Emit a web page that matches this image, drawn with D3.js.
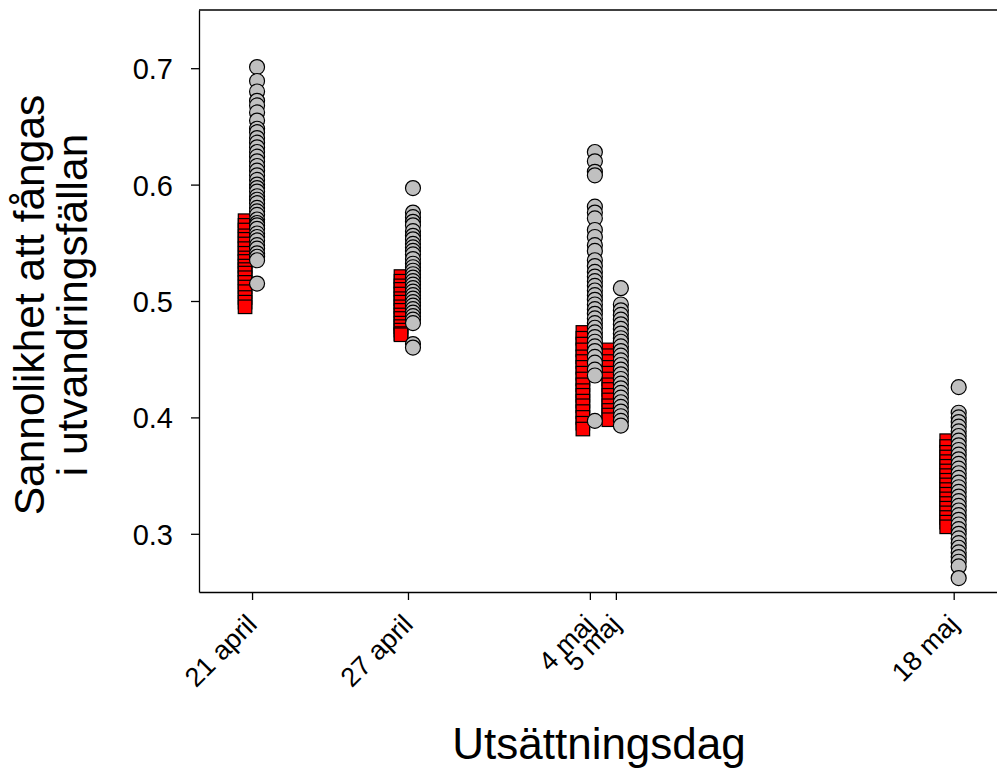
<!DOCTYPE html>
<html>
<head>
<meta charset="utf-8">
<script src="https://cdn.jsdelivr.net/npm/d3@7/dist/d3.min.js"></script>
<style>
  html, body { margin: 0; padding: 0; background: #fff; }
  svg { display: block; }
  text { font-family: "Liberation Sans", Arial, sans-serif; fill: #000; }
</style>
</head>
<body>
<svg id="chart" width="997" height="771"></svg>
<script>
// Release dates and their tick labels
const releaseDates = ["2010-04-21", "2010-04-27", "2010-05-04", "2010-05-05", "2010-05-18"];
const dateLabels = ["21 april", "27 april", "4 maj", "5 maj", "18 maj"];

// Modelled probability per release group (red squares)
const groupApr21 = [0.569, 0.565, 0.561, 0.556, 0.553, 0.549, 0.545, 0.541, 0.537, 0.534, 0.530, 0.527, 0.524, 0.520, 0.516, 0.512, 0.508, 0.503, 0.499, 0.495];
const groupApr27 = [0.521, 0.517, 0.513, 0.510, 0.506, 0.502, 0.499, 0.495, 0.492, 0.488, 0.485, 0.481, 0.478, 0.475, 0.472, 0.471];
const groupMay04 = [0.473, 0.468, 0.463, 0.458, 0.452, 0.448, 0.443, 0.438, 0.433, 0.428, 0.423, 0.419, 0.414, 0.410, 0.405, 0.400, 0.395, 0.390];
const groupMay05 = [0.458, 0.453, 0.448, 0.443, 0.438, 0.433, 0.428, 0.424, 0.419, 0.415, 0.410, 0.406, 0.402, 0.398];
const groupMay18 = [0.380, 0.375, 0.370, 0.366, 0.362, 0.358, 0.354, 0.350, 0.346, 0.342, 0.338, 0.334, 0.330, 0.326, 0.322, 0.318, 0.314, 0.310, 0.306];

// Individual fish probabilities per release (grey circles)
const fishApr21 = [0.701, 0.689, 0.680, 0.672, 0.668, 0.662, 0.655, 0.648, 0.645, 0.640, 0.636, 0.632, 0.628, 0.624, 0.620, 0.616, 0.612, 0.608, 0.604, 0.600, 0.597, 0.594, 0.590, 0.587, 0.584, 0.580, 0.577, 0.574, 0.570, 0.567, 0.565, 0.562, 0.558, 0.555, 0.552, 0.548, 0.545, 0.541, 0.538, 0.535, 0.515];
const fishApr27 = [0.597, 0.576, 0.572, 0.568, 0.565, 0.560, 0.556, 0.553, 0.549, 0.546, 0.543, 0.540, 0.536, 0.532, 0.529, 0.526, 0.523, 0.520, 0.517, 0.514, 0.511, 0.508, 0.505, 0.502, 0.499, 0.496, 0.493, 0.490, 0.487, 0.484, 0.481, 0.463, 0.460];
const fishMay04 = [0.628, 0.620, 0.611, 0.608, 0.581, 0.576, 0.571, 0.561, 0.555, 0.548, 0.543, 0.535, 0.530, 0.525, 0.521, 0.517, 0.513, 0.509, 0.505, 0.501, 0.497, 0.493, 0.489, 0.485, 0.481, 0.477, 0.473, 0.469, 0.465, 0.461, 0.457, 0.452, 0.447, 0.441, 0.436, 0.397];
const fishMay05 = [0.511, 0.497, 0.492, 0.488, 0.484, 0.480, 0.476, 0.472, 0.468, 0.465, 0.461, 0.457, 0.453, 0.449, 0.445, 0.441, 0.437, 0.433, 0.429, 0.425, 0.421, 0.417, 0.413, 0.409, 0.405, 0.401, 0.397, 0.393];
const fishMay18 = [0.426, 0.404, 0.400, 0.396, 0.392, 0.388, 0.384, 0.380, 0.376, 0.372, 0.368, 0.364, 0.360, 0.356, 0.352, 0.348, 0.344, 0.340, 0.336, 0.332, 0.328, 0.324, 0.320, 0.316, 0.312, 0.308, 0.304, 0.300, 0.296, 0.292, 0.288, 0.284, 0.280, 0.276, 0.272, 0.262];

const yTicks = [0.3, 0.4, 0.5, 0.6, 0.7];

const groupSeries = [groupApr21, groupApr27, groupMay04, groupMay05, groupMay18];
const fishSeries = [fishApr21, fishApr27, fishMay04, fishMay05, fishMay18];

const parse = d3.utcParse("%Y-%m-%d");
const dates = releaseDates.map(parse);

const svg = d3.select("#chart");
const margin = { left: 199, top: 10, right: 0, bottom: 179 };
const W = 997, H = 771;

const x = d3.scaleUtc()
  .domain([d3.utcHour.offset(dates[0], -49), d3.utcHour.offset(dates[4], 40)])
  .range([margin.left, W - margin.right]);
const y = d3.scaleLinear()
  .domain([0.25, 0.75])
  .range([H - margin.bottom, margin.top]);

const sq = 13.5;   // square marker side
const r = 7.5;     // circle marker radius
const sqShift = -7, ciShift = 5;

// Group markers
groupSeries.forEach((vals, i) => {
  svg.append("g")
    .selectAll("rect")
    .data(vals)
    .join("rect")
    .attr("x", x(dates[i]) + sqShift - sq / 2)
    .attr("y", d => y(d) - sq / 2)
    .attr("width", sq)
    .attr("height", sq)
    .attr("fill", "#ff0000")
    .attr("stroke", "#000")
    .attr("stroke-width", 1.2);
});

// Individual markers
fishSeries.forEach((vals, i) => {
  svg.append("g")
    .selectAll("circle")
    .data(vals)
    .join("circle")
    .attr("cx", x(dates[i]) + ciShift)
    .attr("cy", d => y(d))
    .attr("r", r)
    .attr("fill", "#c0c0c0")
    .attr("stroke", "#000")
    .attr("stroke-width", 1.2);
});

// Frame: top line (left and bottom come from the axes)
svg.append("line")
  .attr("x1", margin.left).attr("x2", W)
  .attr("y1", margin.top).attr("y2", margin.top)
  .attr("stroke", "#000").attr("stroke-width", 1.3);

// Y axis
const yAxis = svg.append("g")
  .attr("transform", `translate(${margin.left},0)`)
  .call(d3.axisLeft(y).tickValues(yTicks).tickFormat(d3.format(".1f")).tickSize(8).tickSizeOuter(0).tickPadding(18));
yAxis.select(".domain").attr("stroke-width", 1.3);
yAxis.selectAll(".tick line").attr("stroke-width", 1.3);
yAxis.selectAll(".tick text").style("font-size", "29px").attr("dy", "0.36em");

// X axis
const xAxis = svg.append("g")
  .attr("transform", `translate(0,${H - margin.bottom})`)
  .call(d3.axisBottom(x).tickValues(dates).tickFormat((d, i) => dateLabels[i]).tickSize(8).tickSizeOuter(0));
xAxis.select(".domain").attr("stroke-width", 1.3);
xAxis.selectAll(".tick line").attr("stroke-width", 1.3);
xAxis.selectAll(".tick text")
  .style("font-size", "27px")
  .attr("text-anchor", "end")
  .attr("y", 0)
  .attr("dy", 0)
  .attr("transform", "translate(6,34) rotate(-45)");

// Axis titles
svg.append("text")
  .attr("x", 599)
  .attr("y", 759)
  .attr("text-anchor", "middle")
  .style("font-size", "44px")
  .text("Utsättningsdag");

const yTitle = svg.append("text")
  .attr("transform", "translate(0,305) rotate(-90)")
  .attr("text-anchor", "middle")
  .style("font-size", "42.5px");
yTitle.append("tspan").attr("x", 0).attr("y", 44).text("Sannolikhet att fångas");
yTitle.append("tspan").attr("x", 0).attr("y", 87).text("i utvandringsfällan");
</script>
</body>
</html>
